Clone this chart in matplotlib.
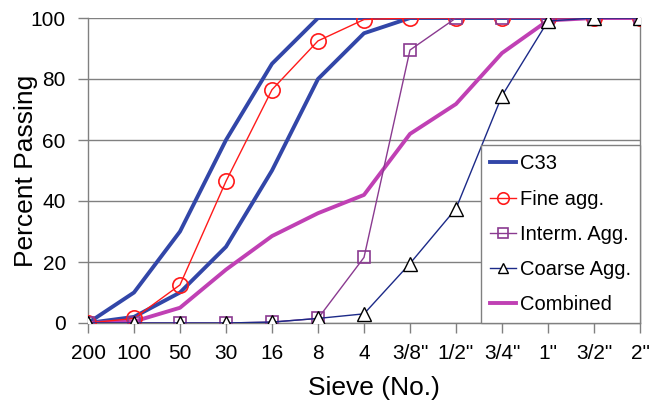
import matplotlib
matplotlib.use("Agg")
import matplotlib.pyplot as plt
import numpy as np

plt.rcParams['font.family'] = ['Liberation Sans', 'DejaVu Sans']

sieves = ['200', '100', '50', '30', '16', '8', '4', '3/8"', '1/2"', '3/4"', '1"', '3/2"', '2"']
c33_upper = [0, 10, 30, 60, 85, 100, 100, 100, 100, 100, 100, 100, 100]
c33_lower = [0, 2, 10, 25, 50, 80, 95, 100, 100, 100, 100, 100, 100]
fine_agg = [0, 1.5, 12.5, 46.5, 76.5, 92.5, 99.5, 100, 100, 100, 100, 100, 100]
interm_agg = [0, 0, 0, 0, 0.3, 1.5, 21.5, 89.5, 100, 100, 100, 100, 100]
coarse_agg = [0, 0, 0, 0, 0.3, 1.5, 3, 19.5, 37.5, 74.5, 99, 100, 100]
combined = [0, 0.5, 5, 17.5, 28.5, 36, 42, 62, 71.8, 88.5, 99.2, 100, 100]

x = np.arange(len(sieves))

fig = plt.figure(figsize=(6.5, 4.0), dpi=100)
ax = fig.add_axes([0.1354, 0.1925, 0.8492, 0.7625])

blue = '#3246a8'
red = '#ff1a1a'
purple = '#8a3a90'
navy = '#1c2a88'
magenta = '#c040b4'

ax.plot(x, c33_upper, color=blue, lw=2.8, label='C33', zorder=3)
ax.plot(x, c33_lower, color=blue, lw=2.8, zorder=3)
ax.plot(x, fine_agg, color=red, lw=1.0, marker='o', ms=11, mfc='none', mec=red, mew=1.2,
        label='Fine agg.', zorder=4)
ax.plot(x, interm_agg, color=purple, lw=1.0, marker='s', ms=9, mfc='none', mec=purple, mew=1.2,
        label='Interm. Agg.', zorder=4)
ax.plot(x, coarse_agg, color=navy, lw=1.0, marker='^', ms=10, mfc='white', mec='black', mew=1.0,
        label='Coarse Agg.', zorder=4)
ax.plot(x, combined, color=magenta, lw=2.8, label='Combined', zorder=3)

ax.set_xlim(0, len(sieves) - 1)
ax.set_ylim(0, 100)
ax.set_xticks(x)
ax.set_xticklabels(sieves)
ax.set_yticks([0, 20, 40, 60, 80, 100])
ax.tick_params(axis='both', labelsize=15, color='#808080', length=7, width=1.0, direction='out')
ax.tick_params(axis='x', pad=8)
ax.tick_params(axis='y', pad=9)
ax.grid(axis='y', color='#808080', lw=1.0)
ax.set_axisbelow(True)
for s in ax.spines.values():
    s.set_color('#808080')
    s.set_linewidth(1.0)
ax.spines['top'].set_visible(False)

ax.set_xlabel('Sieve (No.)', fontsize=19)
ax.xaxis.set_label_coords(0.518, -0.175)
ax.set_ylabel('Percent Passing', fontsize=19)
ax.yaxis.set_label_coords(-0.091, 0.5)

leg = ax.legend(loc='lower right', bbox_to_anchor=(1.0, 0.0), borderaxespad=0,
                fontsize=14.5, handlelength=1.3, handletextpad=0.2, labelspacing=0.8,
                fancybox=False, framealpha=1, edgecolor='#808080', borderpad=0.45,
                markerscale=0.75)
leg.get_frame().set_linewidth(1.0)
leg.set_zorder(10)

fig.savefig('out.png', dpi=100)
